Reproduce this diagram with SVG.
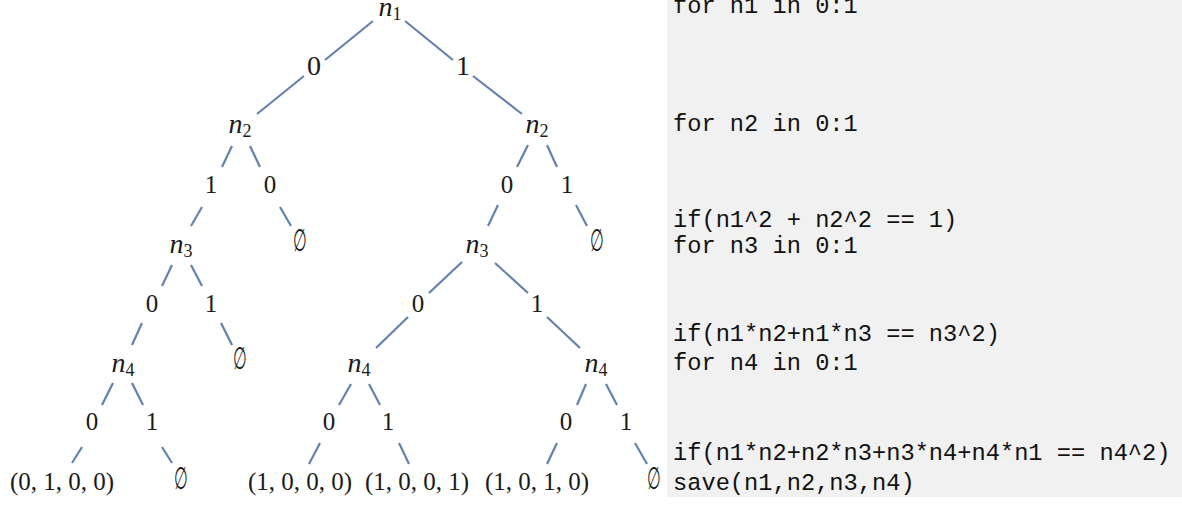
<svg xmlns="http://www.w3.org/2000/svg" width="1182" height="506" viewBox="0 0 1182 506">
<style>
.e{stroke:#6482ae;stroke-width:2.2;stroke-linecap:butt;fill:none}
.m{font-family:"Liberation Serif","Times New Roman",serif;font-size:25px;fill:#1a1a1a;text-anchor:middle}
.big{font-size:28px}
.v{font-style:italic;font-size:28px}
.s{font-size:18px;font-style:normal}
.c{font-family:"Liberation Mono","Courier New",monospace;font-size:23.7px;fill:#111}
</style>
<defs>
<text id="empty" class="m" x="0" y="0">∅</text>
</defs>
<rect x="0" y="0" width="1182" height="506" fill="#ffffff"/>
<rect id="code-panel" x="667" y="0" width="515" height="497" fill="#f1f1f1"/>
<g id="connectors">
<line class="e" x1="373" y1="21" x2="325" y2="60"/>
<line class="e" x1="304" y1="76" x2="257" y2="114"/>
<line class="e" x1="405" y1="21" x2="453" y2="60"/>
<line class="e" x1="473" y1="76" x2="522" y2="114"/>
<line class="e" x1="232" y1="146" x2="222" y2="167"/>
<line class="e" x1="250" y1="146" x2="260" y2="167"/>
<line class="e" x1="202" y1="207" x2="191" y2="226"/>
<line class="e" x1="280" y1="207" x2="291" y2="226"/>
<line class="e" x1="172" y1="265" x2="162" y2="286"/>
<line class="e" x1="191" y1="265" x2="202" y2="286"/>
<line class="e" x1="142" y1="323" x2="132" y2="345"/>
<line class="e" x1="221" y1="323" x2="232" y2="345"/>
<line class="e" x1="113" y1="383" x2="102" y2="405"/>
<line class="e" x1="132" y1="383" x2="143" y2="405"/>
<line class="e" x1="82" y1="447" x2="72" y2="463"/>
<line class="e" x1="162" y1="447" x2="172" y2="463"/>
<line class="e" x1="528" y1="145" x2="517" y2="167"/>
<line class="e" x1="547" y1="145" x2="557" y2="167"/>
<line class="e" x1="498" y1="205" x2="488" y2="226"/>
<line class="e" x1="576" y1="205" x2="587" y2="226"/>
<line class="e" x1="462" y1="262" x2="429" y2="293"/>
<line class="e" x1="408" y1="317" x2="376" y2="348"/>
<line class="e" x1="495" y1="263" x2="528" y2="293"/>
<line class="e" x1="547" y1="317" x2="580" y2="348"/>
<line class="e" x1="351" y1="384" x2="339" y2="405"/>
<line class="e" x1="369" y1="384" x2="380" y2="405"/>
<line class="e" x1="320" y1="443" x2="309" y2="464"/>
<line class="e" x1="399" y1="443" x2="409" y2="464"/>
<line class="e" x1="586" y1="384" x2="577" y2="405"/>
<line class="e" x1="606" y1="384" x2="617" y2="405"/>
<line class="e" x1="557" y1="443" x2="547" y2="464"/>
<line class="e" x1="635" y1="443" x2="647" y2="464"/>
</g>
<g id="n1"><text class="m v" x="390" y="16">n<tspan class="s" dy="4">1</tspan></text></g>
<g id="e1-0"><text class="m big" x="314" y="75">0</text></g>
<g id="e1-1"><text class="m big" x="463" y="75">1</text></g>
<g id="n2-a"><text class="m v" x="240" y="133">n<tspan class="s" dy="4">2</tspan></text></g>
<g id="n2-b"><text class="m v" x="537" y="133">n<tspan class="s" dy="4">2</tspan></text></g>
<g id="e2a-1"><text class="m" x="211" y="193">1</text></g>
<g id="e2a-0"><text class="m" x="270" y="193">0</text></g>
<g id="e2b-0"><text class="m" x="507" y="193">0</text></g>
<g id="e2b-1"><text class="m" x="567" y="193">1</text></g>
<g id="n3-a"><text class="m v" x="181" y="253">n<tspan class="s" dy="4">3</tspan></text></g>
<g id="empty-1"><use href="#empty" transform="translate(300,251) scale(0.62,1.22)"/></g>
<g id="n3-b"><text class="m v" x="477" y="253">n<tspan class="s" dy="4">3</tspan></text></g>
<g id="empty-2"><use href="#empty" transform="translate(597,251) scale(0.62,1.22)"/></g>
<g id="e3a-0"><text class="m" x="152" y="312">0</text></g>
<g id="e3a-1"><text class="m" x="211" y="312">1</text></g>
<g id="e3b-0"><text class="m" x="418" y="312">0</text></g>
<g id="e3b-1"><text class="m" x="537" y="312">1</text></g>
<g id="n4-a"><text class="m v" x="123" y="372">n<tspan class="s" dy="4">4</tspan></text></g>
<g id="empty-3"><use href="#empty" transform="translate(240,369) scale(0.62,1.22)"/></g>
<g id="n4-b"><text class="m v" x="359" y="372">n<tspan class="s" dy="4">4</tspan></text></g>
<g id="n4-c"><text class="m v" x="596" y="372">n<tspan class="s" dy="4">4</tspan></text></g>
<g id="e4a-0"><text class="m" x="92" y="430">0</text></g>
<g id="e4a-1"><text class="m" x="152" y="430">1</text></g>
<g id="e4b-0"><text class="m" x="329" y="430">0</text></g>
<g id="e4b-1"><text class="m" x="388" y="430">1</text></g>
<g id="e4c-0"><text class="m" x="566" y="430">0</text></g>
<g id="e4c-1"><text class="m" x="626" y="430">1</text></g>
<g id="leaf-0100"><text class="m" x="62" y="490">(0, 1, 0, 0)</text></g>
<g id="empty-4"><use href="#empty" transform="translate(181,489) scale(0.62,1.22)"/></g>
<g id="leaf-1000"><text class="m" x="300" y="490">(1, 0, 0, 0)</text></g>
<g id="leaf-1001"><text class="m" x="417" y="490">(1, 0, 0, 1)</text></g>
<g id="leaf-1010"><text class="m" x="537" y="490">(1, 0, 1, 0)</text></g>
<g id="empty-5"><use href="#empty" transform="translate(654,489) scale(0.62,1.22)"/></g>
<g id="code">
<text class="c" x="673" y="13">for n1 in 0:1</text>
<text class="c" x="673" y="131">for n2 in 0:1</text>
<text class="c" x="673" y="227">if(n1^2 + n2^2 == 1)</text>
<text class="c" x="673" y="253">for n3 in 0:1</text>
<text class="c" x="673" y="341">if(n1*n2+n1*n3 == n3^2)</text>
<text class="c" x="673" y="370">for n4 in 0:1</text>
<text class="c" x="673" y="460">if(n1*n2+n2*n3+n3*n4+n4*n1 == n4^2)</text>
<text class="c" x="673" y="490">save(n1,n2,n3,n4)</text>
</g>
</svg>
